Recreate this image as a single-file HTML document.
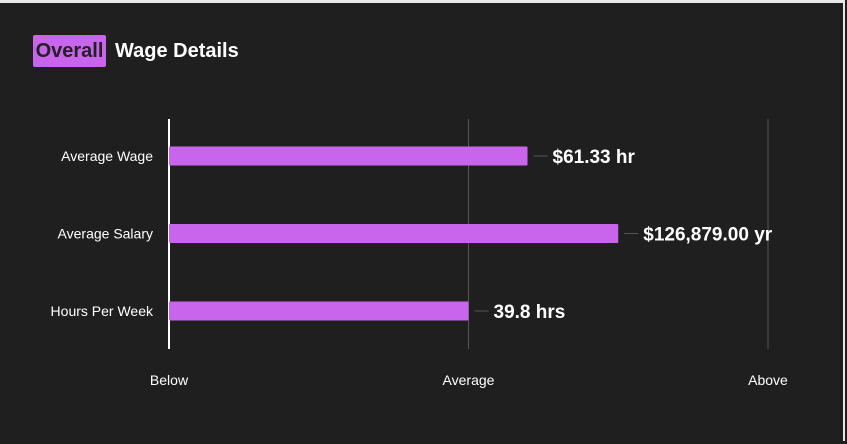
<!DOCTYPE html>
<html><head><meta charset="utf-8"><style>
body{margin:0;width:847px;height:441px;background:#1f1f1f;overflow:hidden;font-family:"Liberation Sans",sans-serif}
#wrap{position:absolute;left:0;top:0;width:845px;height:441px;border-top:3px solid #e8e8e8;border-right:2px solid #e8e8e8;box-sizing:border-box;background:#1f1f1f}
.narrow{font-family:"Liberation Sans Narrow","Liberation Sans",sans-serif;font-weight:bold}
</style></head><body>
<div id="wrap">
<div class="narrow" style="position:absolute;left:33px;top:32px;width:73px;height:32px;background:#c964ec;border-radius:2px;color:#222;font-size:20px;line-height:32px;text-align:center">Overall</div>
<div class="narrow" style="position:absolute;left:115px;top:32px;color:#fff;font-size:20px;line-height:32px">Wage Details</div>
<svg id="chart" width="845" height="441" style="position:absolute;left:0;top:0"></svg>
</div>
<script>
const categories=["Average Wage","Average Salary","Hours Per Week"];
const values=[1.197,1.5,1.0];
const valueLabels=["$61.33 hr","$126,879.00 yr","39.8 hrs"];
const tickLabels=["Below","Average","Above"];
const tickValues=[0,1,2];
const NS="http://www.w3.org/2000/svg";
const svg=document.getElementById('chart');
const x=v=>169+v*299.5;
const y=i=>153+i*77.5;
function mk(t,a,txt){const e=document.createElementNS(NS,t);for(const k in a)e.setAttribute(k,a[k]);if(txt!=null)e.textContent=txt;svg.appendChild(e);return e;}
tickValues.forEach((t,i)=>{
 const g=mk('line',{x1:x(t),x2:x(t),y1:116,y2:346,stroke:i==0?'#fff':'#555','stroke-width':i==0?2:1});
 
 
 const tl=mk('text',{x:x(t),y:382,fill:'#fff','font-size':14,'text-anchor':'middle','font-family':'Liberation Sans, sans-serif'},tickLabels[i]);
 
 
});
categories.forEach((c,i)=>{
 const cy=y(i);
 const l=mk('text',{x:153,y:cy+5,fill:'#fff','font-size':14,'text-anchor':'end','font-family':'Liberation Sans, sans-serif'},c);
 
 
 const b=mk('rect',{x:x(0),y:cy-9.5,width:x(values[i])-x(0),height:19,rx:1,fill:'#c964ec'});
 
 
 const ex=x(values[i]);
 const ln=mk('line',{x1:ex+6,x2:ex+20,y1:cy,y2:cy,stroke:'#555','stroke-width':1});
 
 
 const vt=mk('text',{x:ex+25,y:cy+7,fill:'#fff','font-size':19,'font-weight':'bold','font-family':'Liberation Sans Narrow, Liberation Sans, sans-serif'},valueLabels[i]);
 
 
});
</script>
</body></html>
